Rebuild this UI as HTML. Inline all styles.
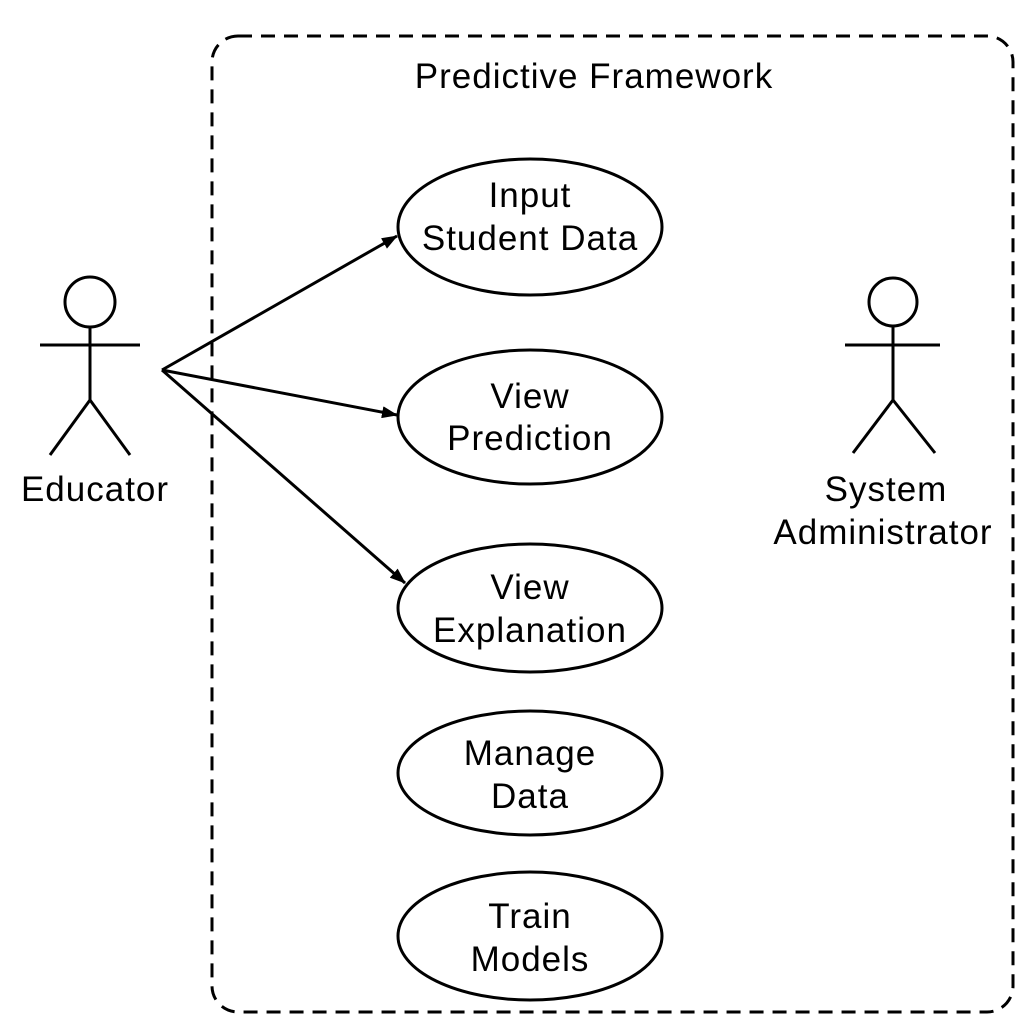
<!DOCTYPE html>
<html><head><meta charset="utf-8"><style>
html,body{margin:0;padding:0;background:#fff;}
svg{display:block;}
text{font-family:"Liberation Sans",sans-serif;font-size:35px;letter-spacing:1px;fill:#000;text-anchor:middle;}
</style></head><body>
<svg width="1024" height="1024" viewBox="0 0 1024 1024" xmlns="http://www.w3.org/2000/svg">
<defs><marker id="a" markerWidth="16" markerHeight="12" refX="15" refY="6" orient="auto" markerUnits="userSpaceOnUse"><path d="M0,0 L16,6 L0,12 Z" fill="#000"/></marker></defs>
<rect x="212" y="36" width="801" height="976" rx="26" fill="none" stroke="#000" stroke-width="3" stroke-dasharray="14,9"/>
<text x="594" y="88">Predictive Framework</text>
<g fill="none" stroke="#000" stroke-width="3">
<ellipse cx="530" cy="227" rx="132" ry="68"/>
<ellipse cx="530" cy="417" rx="132" ry="67"/>
<ellipse cx="530" cy="608" rx="132" ry="64"/>
<ellipse cx="530" cy="773" rx="132" ry="62"/>
<ellipse cx="530" cy="936" rx="132" ry="64"/>
<circle cx="90" cy="302" r="25"/>
<line x1="90" y1="327" x2="90" y2="400"/>
<line x1="40" y1="345" x2="140" y2="345"/>
<line x1="90" y1="400" x2="50" y2="455"/>
<line x1="90" y1="400" x2="130" y2="455"/>
<circle cx="893" cy="302" r="24"/>
<line x1="893" y1="326" x2="893" y2="400"/>
<line x1="845" y1="345" x2="940" y2="345"/>
<line x1="893" y1="400" x2="853" y2="453"/>
<line x1="893" y1="400" x2="935" y2="453"/>
<line x1="162" y1="370" x2="397" y2="236" marker-end="url(#a)"/>
<line x1="162" y1="370" x2="397" y2="415" marker-end="url(#a)"/>
<line x1="162" y1="370" x2="405" y2="583" marker-end="url(#a)"/>
</g>
<text x="530" y="207">Input</text><text x="530" y="250">Student Data</text>
<text x="530" y="408">View</text><text x="530" y="450">Prediction</text>
<text x="530" y="599">View</text><text x="530" y="642">Explanation</text>
<text x="530" y="765">Manage</text><text x="530" y="808">Data</text>
<text x="530" y="928">Train</text><text x="530" y="971">Models</text>
<text x="95" y="501">Educator</text>
<text x="886" y="501">System</text><text x="883" y="544">Administrator</text>
</svg>
</body></html>
